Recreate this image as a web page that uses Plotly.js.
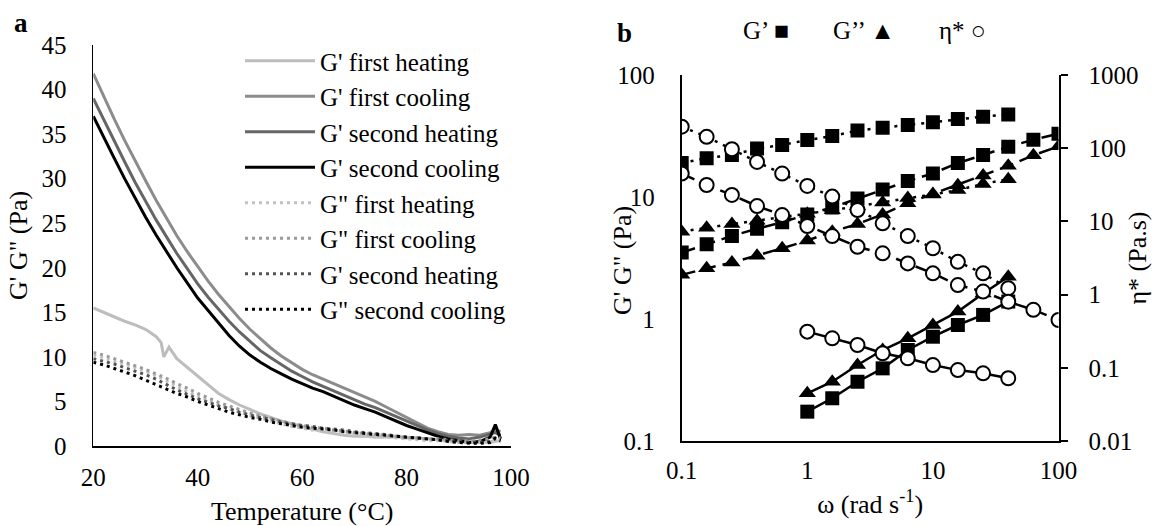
<!DOCTYPE html>
<html><head><meta charset="utf-8">
<script src="https://cdn.plot.ly/plotly-3.0.1.min.js"></script>
<style>html,body{margin:0;padding:0;background:#fff}#chart{width:1152px;height:526px}</style>
</head><body><div id="chart"></div>
<script>
// ---------- Panel a: temperature sweeps ----------
const tempA = [20,22,24,26,28,30,32,34,36,38,40,42,44,46,48,50,52,54,56,58,60,62,64,66,68,70,72,74,76,78,80,82,84,86,88,90,92,94,96,97,98];
const tempFirstHeat = [20,22,24,26,28,30,32,33,33.5,34,34.5,36,38,40,42,44,46,48,50,52,54,56,58,60,62,64,66,68,70,72,74,76,78,80,82,84,86,88,90,92,94,96,98];

const gpFirstHeat = [15.5,15.0,14.5,14.0,13.6,13.1,12.3,11.6,10.0,10.5,11.1,9.8,8.8,7.8,6.8,5.9,5.2,4.6,4.1,3.6,3.2,2.8,2.5,2.2,1.9,1.6,1.4,1.2,1.1,1.1,1.0,1.0,1.0,0.9,0.9,0.8,0.7,0.6,0.5,0.4,0.4,0.5,0.6];
const gpFirstCool = [41.8,39.2,36.7,34.3,32.0,29.8,27.6,25.6,23.6,21.8,20.1,18.5,17.0,15.6,14.3,13.1,12.0,11.0,10.1,9.3,8.6,8.0,7.5,7.0,6.5,6.0,5.5,5.0,4.4,3.8,3.2,2.6,2.0,1.6,1.3,1.2,1.3,1.2,1.5,1.8,1.6];
const gpSecondHeat = [39.0,36.6,34.2,31.9,29.6,27.5,25.4,23.5,21.6,19.9,18.2,16.7,15.3,14.0,12.8,11.7,10.7,9.9,9.1,8.4,7.8,7.2,6.7,6.2,5.7,5.2,4.7,4.3,3.8,3.3,2.8,2.3,1.8,1.4,1.1,0.9,0.8,1.0,1.3,1.5,1.2];
const gpSecondCool = [37.0,34.6,32.3,30.0,27.8,25.7,23.7,21.8,20.0,18.3,16.6,15.2,13.8,12.4,11.2,10.2,9.4,8.7,8.1,7.5,7.0,6.5,6.1,5.6,5.1,4.6,4.2,3.8,3.3,2.8,2.3,1.9,1.5,1.1,0.8,0.6,0.4,0.5,1.0,2.4,0.8];
const gppFirstHeat = [10.2,9.9,9.5,9.2,8.8,8.4,7.9,7.3,6.7,6.1,5.6,5.1,4.6,4.2,3.8,3.4,3.1,2.8,2.5,2.2,2.0,1.8,1.7,1.5,1.4,1.2,1.1,1.0,1.0,0.9,0.8,0.7,0.6,0.6,0.5,0.4,0.4,0.4,0.4,0.5,0.5];
const gppFirstCool = [10.5,10.2,9.8,9.4,9.0,8.6,8.1,7.6,7.0,6.5,5.9,5.4,4.9,4.5,4.1,3.7,3.4,3.1,2.8,2.5,2.3,2.1,2.0,1.8,1.7,1.5,1.4,1.3,1.2,1.1,1.0,0.9,0.8,0.8,0.7,0.6,0.6,0.7,0.8,1.0,0.9];
const gpSecondHeatDot = [9.8,9.5,9.2,8.8,8.4,8.0,7.5,6.9,6.3,5.8,5.3,4.9,4.5,4.2,3.8,3.5,3.2,3.0,2.7,2.5,2.3,2.2,2.0,1.9,1.8,1.6,1.5,1.4,1.3,1.1,1.0,0.9,0.8,0.7,0.6,0.5,0.4,0.4,0.5,0.8,0.6];
const gppSecondCool = [9.4,9.1,8.7,8.3,7.9,7.4,6.9,6.4,5.9,5.5,5.0,4.6,4.2,3.8,3.5,3.2,3.0,2.7,2.5,2.3,2.1,2.0,1.9,1.8,1.6,1.5,1.4,1.3,1.2,1.1,1.0,0.9,0.8,0.7,0.5,0.4,0.3,0.3,0.4,0.9,0.6];

const seriesNamesA = ["G' first heating","G' first cooling","G' second heating","G' second cooling",
  'G" first heating','G" first cooling',"G' second heating",'G" second cooling'];
const tempTicksA = [20,40,60,80,100];
const modTicksA = [0,5,10,15,20,25,30,35,40,45];

// ---------- Panel b: frequency sweeps ----------
const freqFull = [0.1,0.158,0.251,0.398,0.631,1,1.58,2.51,3.98,6.31,10,15.8,25.1,39.8,63.1,100];
const freqDot = [0.1,0.158,0.251,0.398,0.631,1,1.58,2.51,3.98,6.31,10,15.8,25.1,39.8];
const freqSolid = [1,1.58,2.51,3.98,6.31,10,15.8,25.1,39.8];

const gpDot = [19,20.8,22.1,25,26.7,29.3,31.6,35,37,39,41,43.5,45.5,47.5];
const gppDot = [5.2,5.6,6.0,6.4,6.8,7.3,7.8,8.4,9.0,9.8,10.5,11.4,12.8,14.0];
const etaDot = [197,143,97,65,45,30.5,21.8,14.3,9.4,6.3,4.3,2.8,1.95,1.22];

const gpDash = [3.5,4.1,4.8,5.5,6.2,7.2,8.2,9.7,11.5,13.5,15.6,19.0,22.1,25.8,29.5,33.0];
const gppDash = [2.3,2.6,2.9,3.3,3.8,4.4,5.2,6.0,7.2,8.9,10.6,12.5,15.0,18.0,22.0,26.0];
const etaDash = [45,31.4,23,16.2,12.2,8.65,6.3,4.5,3.66,2.67,1.95,1.35,1.10,0.80,0.62,0.45];

const gpSolid = [0.174,0.224,0.306,0.394,0.557,0.716,0.893,1.08,1.39];
const gppSolid = [0.246,0.306,0.42,0.557,0.695,0.893,1.15,1.62,2.22];
const etaSolid = [0.312,0.253,0.205,0.158,0.135,0.109,0.093,0.084,0.072];

const modTicksB = [0.1,1,10,100];
const modTickTextB = ['0.1','1','10','100'];
const etaTicksB = [0.01,0.1,1,10,100,1000];
const etaTickTextB = ['0.01','0.1','1','10','100','1000'];

const FONT = "'Liberation Serif', 'Times New Roman', 'Nimbus Roman', 'DejaVu Serif', serif";

function lineA(x, y, name, color, width, dash) {
  return {x: x, y: y, name: name, type: 'scatter', mode: 'lines', xaxis: 'x', yaxis: 'y',
    line: {color: color, width: width, dash: dash}, hoverinfo: 'skip'};
}
const tracesA = [
  lineA(tempFirstHeat, gpFirstHeat, seriesNamesA[0], '#bdbdbd', 3, 'solid'),
  lineA(tempA, gpFirstCool, seriesNamesA[1], '#8c8c8c', 3, 'solid'),
  lineA(tempA, gpSecondHeat, seriesNamesA[2], '#666666', 3, 'solid'),
  lineA(tempA, gpSecondCool, seriesNamesA[3], '#000000', 3, 'solid'),
  lineA(tempA, gppFirstHeat, seriesNamesA[4], '#c2c2c2', 3, '3px,4px'),
  lineA(tempA, gppFirstCool, seriesNamesA[5], '#9a9a9a', 3, '3px,4px'),
  lineA(tempA, gpSecondHeatDot, seriesNamesA[6], '#555555', 3, '3px,4px'),
  lineA(tempA, gppSecondCool, seriesNamesA[7], '#000000', 3, '3px,4px')
];

function seriesB(x, y, yaxis, symbol, dash, size) {
  const open = symbol === 'circle';
  return {x: x, y: y, type: 'scatter', mode: 'lines+markers', xaxis: 'x2', yaxis: yaxis,
    showlegend: false, hoverinfo: 'skip',
    line: {color: '#000', width: 2.5, dash: dash},
    marker: {symbol: symbol, size: size, color: open ? '#ffffff' : '#000000',
      line: {color: '#000', width: open ? 2 : 0}}};
}
const DOT = '3px,6px', DASH = '14px,7px';
const tracesB = [
  seriesB(freqDot, gpDot, 'y2', 'square', DOT, 14),
  seriesB(freqDot, gppDot, 'y2', 'triangle-up', DOT, 15),
  seriesB(freqDot, etaDot, 'y3', 'circle', DOT, 14),
  seriesB(freqFull, gpDash, 'y2', 'square', DASH, 14),
  seriesB(freqFull, gppDash, 'y2', 'triangle-up', DASH, 15),
  seriesB(freqFull, etaDash, 'y3', 'circle', DASH, 14),
  seriesB(freqSolid, gpSolid, 'y2', 'square', 'solid', 14),
  seriesB(freqSolid, gppSolid, 'y2', 'triangle-up', 'solid', 15),
  seriesB(freqSolid, etaSolid, 'y3', 'circle', 'solid', 14)
];

const W = 1152, H = 526;
const px = v => v / W, py = v => 1 - v / H;
const tickFont = {family: FONT, size: 25, color: '#000'};
const titleFont = {family: FONT, size: 26, color: '#000'};

const layout = {
  width: W, height: H, margin: {l: 0, r: 0, t: 0, b: 0},
  paper_bgcolor: '#fff', plot_bgcolor: 'rgba(0,0,0,0)',
  font: {family: FONT, size: 25, color: '#000'},
  showlegend: true,
  legend: {x: px(240), y: py(38), xanchor: 'left', yanchor: 'top', bgcolor: 'rgba(0,0,0,0)',
    borderwidth: 0, itemwidth: 70, font: {family: FONT, size: 25, color: '#000'}, tracegroupgap: 0},
  xaxis: {domain: [px(93.3), px(511)], anchor: 'y', range: [20, 100], tickvals: tempTicksA,
    showline: true, linecolor: '#000', linewidth: 1.7, showgrid: false, zeroline: false,
    ticks: '', ticklabelstandoff: 8, tickfont: tickFont,
    title: {text: 'Temperature (°C)', font: titleFont, standoff: 12}},
  yaxis: {domain: [1 - 446 / H, 1 - 45 / H], anchor: 'x', range: [0, 45], tickvals: modTicksA,
    showline: true, linecolor: '#000', linewidth: 1.7, showgrid: false, zeroline: false,
    ticks: '', ticklabelstandoff: 20, tickfont: tickFont,
    title: {text: "G' G\" (Pa)", font: titleFont, standoff: 6}},
  xaxis2: {domain: [px(681.7), px(1058.5)], anchor: 'y2', type: 'log', range: [-1, 2],
    tickvals: modTicksB, ticktext: modTickTextB,
    showline: true, linecolor: '#000', linewidth: 2, showgrid: false, zeroline: false,
    ticks: '', ticklabelstandoff: 6, tickfont: tickFont,
    title: {text: 'ω (rad s<sup>-1</sup>)', font: titleFont, standoff: 12}},
  yaxis2: {domain: [1 - 441 / H, 1 - 75 / H], anchor: 'x2', type: 'log', range: [-1, 2],
    tickvals: modTicksB, ticktext: modTickTextB,
    showline: true, linecolor: '#000', linewidth: 2, showgrid: false, zeroline: false,
    ticks: '', ticklabelstandoff: 20, tickfont: tickFont},
  yaxis3: {domain: [1 - 441 / H, 1 - 75 / H], anchor: 'x2', overlaying: 'y2', side: 'right',
    type: 'log', range: [-2, 3], tickvals: etaTicksB, ticktext: etaTickTextB,
    showline: true, linecolor: '#000', linewidth: 2, showgrid: false, zeroline: false,
    ticks: 'outside', ticklen: 7, tickwidth: 2, tickcolor: '#000', ticklabelstandoff: 16, tickfont: tickFont,
    title: {text: 'η* (Pa.s)', font: titleFont, standoff: 8}},
  annotations: [
    {text: '<b>a</b>', xref: 'paper', yref: 'paper', x: px(21), y: py(23), xanchor: 'center', yanchor: 'middle',
      showarrow: false, font: {family: FONT, size: 27, color: '#000'}},
    {text: '<b>b</b>', xref: 'paper', yref: 'paper', x: px(624), y: py(33), xanchor: 'center', yanchor: 'middle',
      showarrow: false, font: {family: FONT, size: 27, color: '#000'}},
    {text: "G' G\" (Pa)", xref: 'paper', yref: 'paper', x: px(622), y: py(261), xanchor: 'center', yanchor: 'middle',
      textangle: -90, showarrow: false, font: titleFont},
    {text: 'G’ ■', xref: 'paper', yref: 'paper', x: px(766), y: py(30), xanchor: 'center', yanchor: 'middle',
      showarrow: false, font: {family: FONT, size: 25, color: '#000'}},
    {text: 'G’’ ▲', xref: 'paper', yref: 'paper', x: px(864), y: py(30), xanchor: 'center', yanchor: 'middle',
      showarrow: false, font: {family: FONT, size: 25, color: '#000'}},
    {text: 'η* ○', xref: 'paper', yref: 'paper', x: px(962), y: py(30), xanchor: 'center', yanchor: 'middle',
      showarrow: false, font: {family: FONT, size: 25, color: '#000'}}
  ]
};

Plotly.newPlot('chart', tracesA.concat(tracesB), layout, {displayModeBar: false, staticPlot: true});
</script></body></html>
